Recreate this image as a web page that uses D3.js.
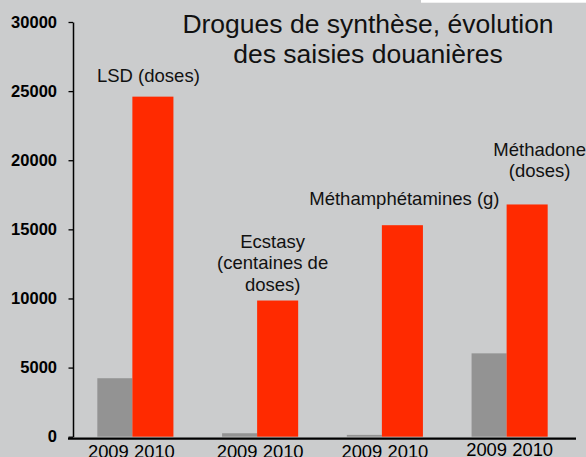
<!DOCTYPE html>
<html lang="fr">
<head>
<meta charset="utf-8">
<title>Drogues de synthèse</title>
<style>
  html, body { margin: 0; padding: 0; background: #cbcccd; }
  svg { display: block; font-family: Arial, "Liberation Sans", sans-serif; }
</style>
</head>
<body>
<svg width="586" height="457"></svg>
<script src="https://d3js.org/d3.v7.min.js"></script>
<script>

    // data
    var categories = ["LSD", "Ecstasy", "Methamphetamines", "Methadone"];
    var years = ["2009", "2010"];
    var values2009 = [4230, 250, 130, 6030];
    var values2010 = [24600, 9850, 15300, 16800];
    var yTicks = [0, 5000, 10000, 15000, 20000, 25000, 30000];
    var notes = [
        ["LSD (doses)"],
        ["Ecstasy", "(centaines de", "doses)"],
        ["Méthamphétamines (g)"],
        ["Méthadone", "(doses)"]
    ];
    var titleLines = ["Drogues de synthèse, évolution", "des saisies douanières"];

    var svg = d3.select("svg"),
        width = +svg.attr("width"),
        height = +svg.attr("height");

    var colors = { "2009": "#939393", "2010": "#ff2a00" };

    var y = d3.scaleLinear().domain([0, 30000]).range([436.7, 22]);

    var x0 = d3.scaleBand()
        .domain(categories)
        .range([73, 572])
        .paddingInner(0.39)
        .paddingOuter(0.195);

    var x1 = d3.scaleBand().domain(years).range([0, x0.bandwidth()]);

    svg.append("rect")
        .attr("width", width).attr("height", height)
        .attr("fill", "#cbcccd");

    // white strip at top right
    svg.append("rect")
        .attr("x", 421).attr("y", 0)
        .attr("width", width - 421).attr("height", 2.7)
        .attr("fill", "#fff");

    // bars
    var rows = categories.map(function(c, i) {
        return { cat: c, v2009: values2009[i], v2010: values2010[i] };
    });

    var g = svg.selectAll("g.grp").data(rows).enter().append("g")
        .attr("class", "grp")
        .attr("transform", function(d) { return "translate(" + x0(d.cat) + ",0)"; });

    g.append("rect")
        .attr("x", x1("2009"))
        .attr("y", function(d) { return y(d.v2009); })
        .attr("width", x1.bandwidth() - 3)
        .attr("height", function(d) { return y(0) - y(d.v2009); })
        .attr("fill", colors["2009"]);

    g.append("rect")
        .attr("x", x1("2010") - 3)
        .attr("y", function(d) { return y(d.v2010); })
        .attr("width", x1.bandwidth() + 3)
        .attr("height", function(d) { return y(0) - y(d.v2010); })
        .attr("fill", colors["2010"]);

    // y axis
    var yAxis = svg.append("g")
        .attr("transform", "translate(73,0)")
        .call(d3.axisLeft(y)
            .tickValues(yTicks)
            .tickFormat(d3.format("d"))
            .tickSize(4.5)
            .tickSizeOuter(0)
            .tickPadding(11.5));
    yAxis.select(".domain").attr("stroke", "#000").attr("stroke-width", 1.5);
    yAxis.selectAll(".tick line").attr("stroke", "#000").attr("stroke-width", 1.3);
    yAxis.selectAll(".tick text")
        .attr("font-family", "Arial, 'Liberation Sans', sans-serif")
        .attr("font-size", "16.5px")
        .attr("font-weight", "bold")
        .attr("fill", "#000");

    // x baseline
    svg.append("line")
        .attr("x1", 68).attr("x2", 576)
        .attr("y1", 438.6).attr("y2", 438.6)
        .attr("stroke", "#000").attr("stroke-width", 2.4);

    // x labels
    svg.selectAll("text.xlab").data(categories).enter().append("text")
        .attr("class", "xlab")
        .attr("x", function(d) { return x0(d) + x0.bandwidth() / 2 - (d === "LSD" ? 4 : 0); })
        .attr("y", function(d) { return d === "Methadone" ? 455.7 : 458; })
        .attr("text-anchor", "middle")
        .attr("font-size", "18.4px")
        .attr("fill", "#000")
        .text(years.join(" "));

    // category notes, placed above the 2010 bar
    var noteLayout = [
        { dx: -6, gap: 15 },
        { dx: -6.5, gap: 10 },
        { dx: 0.5, gap: 20 },
        { dx: 11, gap: 27 }
    ];
    var lineH = 21.5;

    notes.forEach(function(lines, i) {
        var cx = x0(categories[i]) + x1("2010") + x1.bandwidth() / 2 + noteLayout[i].dx;
        var base = y(values2010[i]) - noteLayout[i].gap;
        var t = svg.append("text")
            .attr("text-anchor", "middle")
            .attr("font-size", "18.5px")
            .attr("fill", "#111");
        lines.forEach(function(s, k) {
            t.append("tspan")
                .attr("x", cx)
                .attr("y", base - (lines.length - 1 - k) * lineH)
                .text(s);
        });
    });

    // title
    var title = svg.append("text")
        .attr("text-anchor", "middle")
        .attr("font-size", "26.5px")
        .attr("fill", "#111");
    titleLines.forEach(function(s, k) {
        title.append("tspan")
            .attr("x", 368)
            .attr("y", 33 + k * 30.3)
            .text(s);
    });

</script>
</body>
</html>
